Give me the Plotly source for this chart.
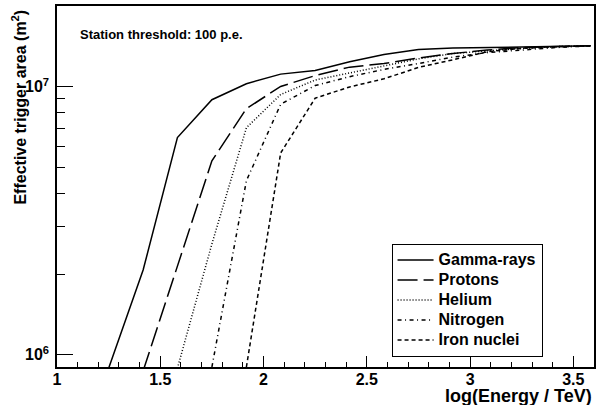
import math
import plotly.graph_objects as go

# ---- data ----
log_energy = [1.25, 1.417, 1.583, 1.75, 1.917, 2.083, 2.25, 2.417,
              2.583, 2.75, 2.917, 3.083, 3.25, 3.417, 3.583]

gamma_rays = [8.9e5, 2.07e6, 6.46e6, 8.94e6, 1.026e7, 1.114e7, 1.15e7, 1.24e7,
              1.318e7, 1.375e7, 1.393e7, 1.40e7, 1.41e7, 1.415e7, 1.42e7]
protons = [None, 8.7e5, 2.13e6, 5.29e6, 8.28e6, 1.002e7, 1.10e7, 1.183e7,
           1.22e7, 1.28e7, 1.33e7, 1.37e7, 1.40e7, 1.41e7, 1.42e7]
helium = [None, None, 8.9e5, 2.59e6, 7.03e6, 9.35e6, 1.059e7, 1.125e7,
          1.188e7, 1.27e7, 1.33e7, 1.36e7, 1.39e7, 1.41e7, 1.42e7]
nitrogen = [None, None, None, 9.0e5, 4.46e6, 8.6e6, 1.01e7, 1.09e7,
            1.16e7, 1.22e7, 1.29e7, 1.34e7, 1.37e7, 1.40e7, 1.42e7]
iron_nuclei = [None, None, None, None, 9.0e5, 5.66e6, 9.06e6, 9.98e6,
               1.07e7, 1.18e7, 1.26e7, 1.35e7, 1.39e7, 1.41e7, 1.42e7]

series_names = ["Gamma-rays", "Protons", "Helium", "Nitrogen", "Iron nuclei"]
series_values = [gamma_rays, protons, helium, nitrogen, iron_nuclei]
series_dash = ["solid", "20px,6px", "1px,2px", "4px,3.5px,1px,3.5px", "4px,3px"]

x_tickvals = [1, 1.5, 2, 2.5, 3, 3.5]
x_ticktext = ["1", "1.5", "2", "2.5", "3", "3.5"]
y_tickvals = [1e6, 1e7]
y_ticktext = ["10<sup>6</sup>", "10<sup>7</sup>"]
y_minor = [9e5] + [k * 1e6 for k in range(2, 10)] + [2e7]

FONT = "Liberation Sans"

fig = go.Figure()
for name, vals, dash in zip(series_names, series_values, series_dash):
    fig.add_trace(go.Scatter(
        x=log_energy, y=vals, mode="lines",
        name='<span style="font-size:16px">' + name + "</span>",
        line=dict(color="black", width=1.5, dash=dash),
        connectgaps=False,
    ))

fig.update_layout(
    width=606, height=405,
    margin=dict(l=57, r=12, t=4, b=38),
    paper_bgcolor="white", plot_bgcolor="white",
    font=dict(family=FONT, color="black", size=16, weight="bold"),
    showlegend=True,
    legend=dict(
        x=0.623, y=0.341, xanchor="left", yanchor="top",
        bgcolor="white", bordercolor="black", borderwidth=1,
        font=dict(family=FONT, size=13.1, color="black", weight="bold"),
        itemwidth=36, tracegroupgap=0,
        entrywidth=160, entrywidthmode="pixels",
    ),
)

fig.update_xaxes(
    range=[1, 3.6], showgrid=False, zeroline=False,
    showline=True, linecolor="black", linewidth=1.5, mirror=True,
    tickmode="array", tickvals=x_tickvals, ticktext=x_ticktext,
    ticks="inside", ticklen=11, tickwidth=1, tickcolor="black",
    ticklabelstandoff=-3,
    tickfont=dict(family=FONT, size=16, weight="bold"),
    minor=dict(ticks="inside", ticklen=5.5, dtick=0.1, tick0=1,
               tickwidth=1, tickcolor="black", showgrid=False),
)

fig.update_yaxes(
    type="log", range=[math.log10(9e5), math.log10(2e7)],
    showgrid=False, zeroline=False,
    showline=True, linecolor="black", linewidth=1.5, mirror=True,
    tickmode="array", tickvals=y_tickvals, ticktext=y_ticktext,
    ticks="inside", ticklen=16, tickwidth=1, tickcolor="black",
    ticklabelstandoff=3,
    tickfont=dict(family=FONT, size=16, weight="bold"),
    minor=dict(ticks="inside", ticklen=8, tickmode="array", tickvals=y_minor,
               tickwidth=1, tickcolor="black", showgrid=False),
)

fig.add_annotation(
    text="log(Energy / TeV)", xref="paper", yref="paper",
    x=1.0, y=-0.081, xanchor="right", yanchor="middle", showarrow=False,
    font=dict(family=FONT, size=18, weight="bold"),
)
fig.add_annotation(
    text="Effective trigger area (m<sup>2</sup>)", xref="paper", yref="paper",
    x=-0.0708, y=0.997, xanchor="center", yanchor="top", showarrow=False,
    textangle=-90, font=dict(family=FONT, size=16, weight="bold"),
)
fig.add_annotation(
    text="Station threshold: 100 p.e.", xref="paper", yref="paper",
    x=0.039, y=0.920, xanchor="left", yanchor="middle", showarrow=False,
    font=dict(family=FONT, size=13, weight="bold"),
)

fig.write_html(
    "out.html",
    config={"displayModeBar": False},
    post_script="document.body.style.margin='0';document.body.style.padding='0';",
)
